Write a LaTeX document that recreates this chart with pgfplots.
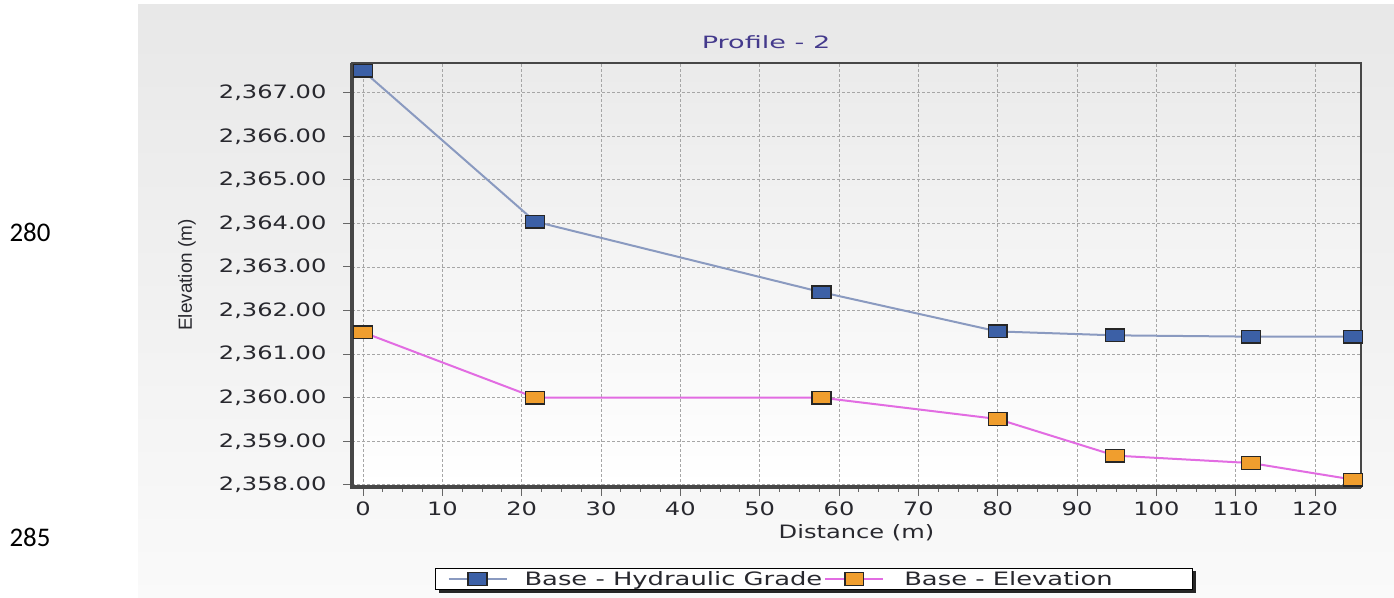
\documentclass[border=0pt]{standalone}
\usepackage{graphicx}
\usepackage{pgfplots}
\pgfplotsset{compat=1.18}
\usepackage{fontspec}
\setmainfont{DejaVu Sans}
\newfontfamily\calfont{Carlito}
\newfontfamily\labfont{Liberation Sans}

\definecolor{hgline}{RGB}{138,154,192}
\definecolor{hgfill}{RGB}{60,96,166}
\definecolor{elline}{RGB}{226,108,226}
\definecolor{elfill}{RGB}{240,158,46}
\definecolor{ttl}{RGB}{68,58,140}
\definecolor{txt}{RGB}{40,40,46}

% the screenshot is stretched sideways, so the text is too
\newcommand{\wide}[1]{\scalebox{1.31}[1]{#1}}
\newcommand{\wider}[1]{\scalebox{1.4}[1]{#1}}

\begin{document}
\begin{tikzpicture}[x=1bp,y=1bp]
\useasboundingbox (0,0) rectangle (1394,598);
\fill[white] (0,0) rectangle (1394,598);
\shade[top color=black!9, bottom color=black!2] (138,0) rectangle (1394,593);

% line numbers of the page around the figure
\node[font=\calfont\fontsize{27}{27}\selectfont] at (30,366) {280};
\node[font=\calfont\fontsize{27}{27}\selectfont] at (30,61) {285};

% shadow behind the legend box
\fill[black!85] (439,5) rectangle (1196,27);

\begin{axis}[
    at={(352bp,111bp)}, anchor=south west,
    scale only axis, width=1009bp, height=424bp,
    xmin=-1.39, xmax=125.8,
    ymin=2357.95, ymax=2367.68,
    clip=false,
    axis background/.style={shade, top color=black!8, bottom color=white},
    axis line style={draw=black!72, line width=2bp},
    xtick={0,10,...,120},
    ytick={2358,2359,...,2367},
    minor x tick num=3, minor y tick num=3,
    xtick pos=left, ytick pos=left,
    tick align=outside,
    major tick length=9bp, minor tick length=5bp,
    tick style={draw=black!60, line width=1bp},
    grid=major,
    major grid style={dash pattern=on 3bp off 2bp, draw=black!35, line width=0.9bp},
    /pgf/number format/assume math mode=true,
    ticklabel style={font=\fontsize{18.5}{19}\selectfont, text=txt},
    yticklabel={\wide{\pgfmathprintnumber[fixed,fixed zerofill,precision=2,1000 sep={,}]{\tick}}},
    xticklabel={\wide{\pgfmathprintnumber{\tick}}},
    yticklabel style={anchor=east, xshift=-13bp},
    xticklabel style={anchor=center, yshift=-13bp},
    xlabel={\wide{Distance (m)}},
    xlabel style={at={(axis description cs:0.5,-0.107)}, anchor=center,
        font=\fontsize{18.5}{19}\selectfont, text=txt},
    ylabel={Elevation (m)},
    ylabel style={at={(axis description cs:-0.1635,0.5)}, anchor=center,
        font=\labfont\fontsize{19}{19}\selectfont, text=txt},
    legend columns=2,
    legend style={at={(axis description cs:0.458,-0.217)}, anchor=center,
        draw=black, line width=1bp, fill=white,
        font=\fontsize{18.5}{19}\selectfont, text=txt,
        inner xsep=12bp, inner ysep=1bp,
        /tikz/every even column/.append style={column sep=0bp}},
    legend image code/.code={
        \draw[mark repeat=2, mark phase=2, #1] plot coordinates {(0bp,0bp) (29bp,0bp) (58bp,0bp)};
    },
]

\addplot[hgline, line width=2bp, mark=square*, mark size=6.3bp,
    mark options={solid, xscale=1.5, fill=hgfill, draw=black!85, line width=1.3bp}]
coordinates {
    (0, 2367.50)
    (21.7, 2364.04)
    (57.8, 2362.42)
    (80.0, 2361.52)
    (94.8, 2361.43)
    (111.9, 2361.40)
    (124.8, 2361.40)
};
\addlegendentry{\hspace*{15bp}\wider{Base - Hydraulic Grade}}

\addplot[elline, line width=2bp, mark=square*, mark size=6.3bp,
    mark options={solid, xscale=1.5, fill=elfill, draw=black!85, line width=1.3bp}]
coordinates {
    (0, 2361.50)
    (21.7, 2360.00)
    (57.8, 2360.00)
    (80.0, 2359.51)
    (94.8, 2358.67)
    (111.9, 2358.50)
    (124.8, 2358.12)
};
\addlegendentry{\hspace*{18bp}\wider{Base - Elevation}\rule{66bp}{0bp}}

% heavier left and bottom edge, as in the screenshot
\draw[black!72, line width=4bp] (rel axis cs:0,1) -- (rel axis cs:0,0) -- (rel axis cs:1,0);
\end{axis}

\node[font=\fontsize{17}{17}\selectfont, text=ttl] at (766,556) {\scalebox{1.6}[1]{Profile - 2}};
\end{tikzpicture}
\end{document}
